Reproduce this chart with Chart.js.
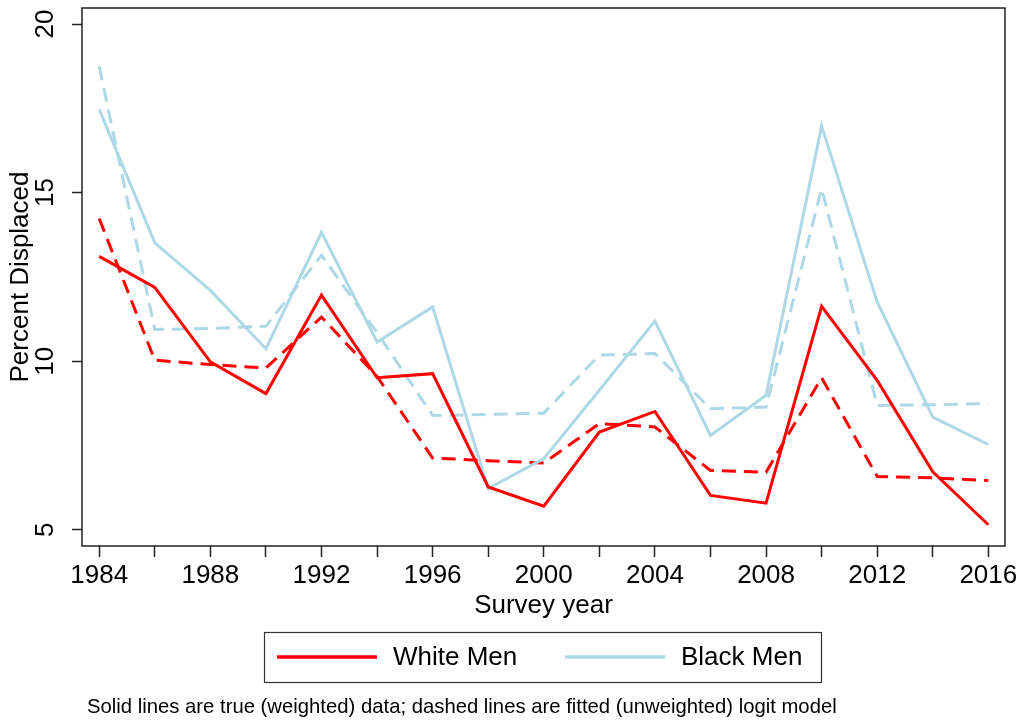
<!DOCTYPE html>
<html>
<head>
<meta charset="utf-8">
<script src="https://cdn.jsdelivr.net/npm/chart.js@4.4.1/dist/chart.umd.min.js"></script>
<style>
  html, body { margin: 0; padding: 0; background: #ffffff; }
  #wrap { width: 1022px; height: 723px; position: relative; }
</style>
</head>
<body>
<div id="wrap"><canvas id="c" width="1022" height="723"></canvas></div>
<script>
// Survey years (tick marks every 2 years, labels every 4)
const years = [1984, 1986, 1988, 1990, 1992, 1994, 1996, 1998, 2000,
               2002, 2004, 2006, 2008, 2010, 2012, 2014, 2016];
const xLabelYears = [1984, 1988, 1992, 1996, 2000, 2004, 2008, 2012, 2016];
const yTicks = [5, 10, 15, 20];

// Percent displaced: true (weighted) data
const whiteTrue = [13.11, 12.19, 9.98, 9.04, 11.96, 9.51, 9.63, 6.27, 5.70,
                   7.90, 8.51, 6.02, 5.79, 11.63, 9.43, 6.72, 5.15];
const blackTrue = [17.47, 13.51, 12.10, 10.37, 13.82, 10.57, 11.61, 6.22, 7.11,
                   9.14, 11.19, 7.80, 8.99, 16.98, 11.76, 8.34, 7.53];

// Percent displaced: fitted (unweighted) logit model
const whiteFit = [14.23, 10.03, 9.90, 9.80, 11.31, 9.55, 7.13, 7.05, 6.98,
                  8.15, 8.05, 6.76, 6.71, 9.51, 6.58, 6.54, 6.46];
const blackFit = [18.74, 10.94, 10.97, 11.04, 13.14, 10.85, 8.39, 8.42, 8.46,
                  10.18, 10.23, 8.59, 8.64, 15.12, 8.69, 8.71, 8.74];

const seriesNames = ['White Men', 'Black Men'];
const noteText = 'Solid lines are true (weighted) data; dashed lines are fitted (unweighted) logit model';

const RED = '#ff0000';
const BLUE = '#add8e6';
const FONT = "'Liberation Sans', Arial, Helvetica, sans-serif";

const pts = vals => years.map((yr, i) => ({ x: yr, y: vals[i] }));

const datasets = [
  { label: seriesNames[0], data: pts(whiteTrue), borderColor: RED, borderWidth: 3, showInLegend: true },
  { label: seriesNames[1], data: pts(blackTrue), borderColor: BLUE, borderWidth: 3, showInLegend: true },
  { label: seriesNames[0] + ' (fitted)', data: pts(whiteFit), borderColor: RED, borderWidth: 3, borderDash: [14, 8] },
  { label: seriesNames[1] + ' (fitted)', data: pts(blackFit), borderColor: BLUE, borderWidth: 3, borderDash: [14, 8] }
].map(d => Object.assign({ pointRadius: 0, fill: false, tension: 0, borderJoinStyle: 'miter' }, d));

// Plot frame, rotated y tick labels, boxed legend and footnote
const decorations = {
  id: 'decorations',
  afterDraw(chart) {
    const ctx = chart.ctx;
    const a = chart.chartArea;
    ctx.save();
    ctx.strokeStyle = '#222';
    ctx.lineWidth = 1.5;
    ctx.strokeRect(a.left, a.top, a.right - a.left, a.bottom - a.top);

    // y tick labels, reading bottom to top
    const ys = chart.scales.y;
    ctx.fillStyle = '#000';
    ctx.font = '26px ' + FONT;
    ctx.textAlign = 'center';
    ctx.textBaseline = 'middle';
    yTicks.forEach(v => {
      const py = ys.getPixelForValue(v);
      ctx.save();
      ctx.translate(46, py);
      ctx.rotate(-Math.PI / 2);
      ctx.fillText(String(v), 0, 0);
      ctx.restore();
    });

    // legend box
    ctx.strokeStyle = '#333';
    ctx.lineWidth = 1.2;
    ctx.strokeRect(264.5, 632.5, 557, 50);
    const items = chart.data.datasets.filter(d => d.showInLegend);
    const lx = [277, 565];
    ctx.textAlign = 'left';
    ctx.font = '26px ' + FONT;
    items.forEach((d, i) => {
      ctx.strokeStyle = d.borderColor;
      ctx.lineWidth = 3.5;
      ctx.beginPath();
      ctx.moveTo(lx[i], 657);
      ctx.lineTo(lx[i] + 100, 657);
      ctx.stroke();
      ctx.fillStyle = '#000';
      ctx.fillText(d.label, lx[i] + 116, 658);
    });

    // footnote
    ctx.font = '20.3px ' + FONT;
    ctx.fillText(noteText, 87, 707);
    ctx.restore();
  }
};

new Chart(document.getElementById('c'), {
  type: 'line',
  data: { datasets },
  options: {
    responsive: false,
    devicePixelRatio: 1,
    animation: false,
    layout: { padding: { top: 8, right: 17, left: 0, bottom: 97 } },
    plugins: { legend: { display: false }, tooltip: { enabled: false } },
    scales: {
      x: {
        type: 'linear',
        min: 1983.38,
        max: 2016.6,
        afterBuildTicks: s => { s.ticks = years.map(v => ({ value: v })); },
        afterFit: s => { s.height = 80; },
        ticks: {
          autoSkip: false, minRotation: 0, maxRotation: 0, padding: 3,
          color: '#000', font: { size: 26, family: FONT },
          callback: v => (xLabelYears.includes(v) ? String(v) : '')
        },
        grid: { drawOnChartArea: false, drawTicks: true, tickLength: 11, tickColor: '#222', tickWidth: 1.5 },
        border: { display: false },
        title: {
          display: true, text: 'Survey year', color: '#000',
          font: { size: 26, family: FONT }, padding: { top: 0, bottom: 5 }
        }
      },
      y: {
        type: 'linear',
        min: 4.52,
        max: 20.475,
        afterBuildTicks: s => { s.ticks = yTicks.map(v => ({ value: v })); },
        afterFit: s => { s.width = 82; },
        ticks: { display: false },
        grid: { drawOnChartArea: false, drawTicks: true, tickLength: 10, tickColor: '#222', tickWidth: 1.5 },
        border: { display: false },
        title: {
          display: true, text: 'Percent Displaced', color: '#000',
          font: { size: 26, family: FONT }, padding: { top: 5, bottom: 0 }
        }
      }
    }
  },
  plugins: [decorations]
});
</script>
</body>
</html>
